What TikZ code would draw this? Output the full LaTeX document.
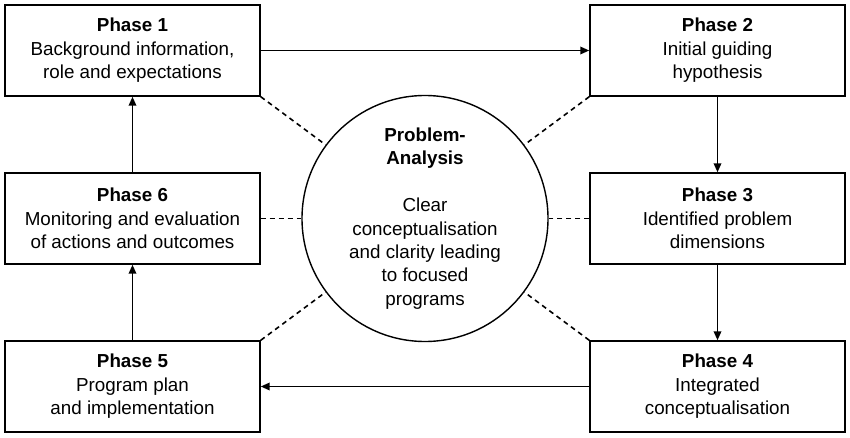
\documentclass[tikz,border=0pt]{standalone}
\usepackage{fontspec}
\setmainfont{Liberation Sans}
\usepackage{tikz}
\usetikzlibrary{arrows.meta}

\begin{document}
\begin{tikzpicture}[
  font=\fontsize{10.7}{13.3}\selectfont,
  phasebox/.style={draw, line width=0.8pt, minimum width=5.1cm, minimum height=1.82cm, inner sep=0pt, align=center},
  flow/.style={line width=1pt, -{Triangle[length=1.8mm,width=1.5mm]}},
  link/.style={line width=0.9pt, dash pattern=on 2.8pt off 2.3pt}
]
\useasboundingbox (0,0) rectangle (17,8.74);
\node[phasebox] (ph1) at (2.65,7.73) {\textbf{Phase 1}\\Background information,\\role and expectations};
\node[phasebox] (ph2) at (14.35,7.73) {\textbf{Phase 2}\\Initial guiding\\hypothesis};
\node[phasebox] (ph6) at (2.65,4.37) {\textbf{Phase 6}\\Monitoring and evaluation\\of actions and outcomes};
\node[phasebox] (ph3) at (14.35,4.37) {\textbf{Phase 3}\\Identified problem\\dimensions};
\node[phasebox] (ph5) at (2.65,1.01) {\textbf{Phase 5}\\Program plan\\and implementation};
\node[phasebox] (ph4) at (14.35,1.01) {\textbf{Phase 4}\\Integrated\\conceptualisation};
\node[draw, circle, line width=0.8pt, minimum size=4.92cm, inner sep=0pt, align=center] (pa) at (8.5,4.37)
  {\textbf{Problem-}\\\textbf{Analysis}\\[13.3pt]Clear\\conceptualisation\\and clarity leading\\to focused\\programs};
% cycle of phases
\draw[flow] (ph1) -- (ph2);
\draw[flow] (ph2) -- (ph3);
\draw[flow] (ph3) -- (ph4);
\draw[flow] (ph4) -- (ph5);
\draw[flow] (ph5) -- (ph6);
\draw[flow] (ph6) -- (ph1);
% links to the centre
\draw[link] (ph1.south east) -- (pa);
\draw[link] (ph2.south west) -- (pa);
\draw[link] (ph6.east) -- (pa);
\draw[link] (ph3.west) -- (pa);
\draw[link] (ph5.north east) -- (pa);
\draw[link] (ph4.north west) -- (pa);
\end{tikzpicture}
\end{document}
